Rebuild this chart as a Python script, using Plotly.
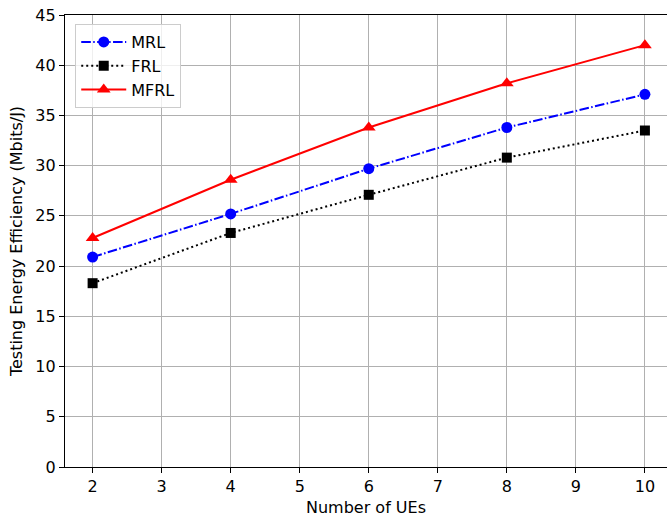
import plotly.graph_objects as go

num_ues = [2, 4, 6, 8, 10]
mrl = [20.9, 25.2, 29.7, 33.8, 37.1]
frl = [18.3, 23.3, 27.1, 30.8, 33.5]
mfrl = [22.8, 28.6, 33.8, 38.2, 42.0]

x_ticks = [2, 3, 4, 5, 6, 7, 8, 9, 10]
y_ticks = [0, 5, 10, 15, 20, 25, 30, 35, 40, 45]

font_family = "DejaVu Sans"
fs = 16

fig = go.Figure()
fig.add_trace(go.Scatter(
    x=num_ues, y=mrl, name="MRL", mode="lines+markers",
    line=dict(color="#0000ff", width=2, dash="9.6px,2.4px,1.5px,2.4px"),
    marker=dict(symbol="circle", size=11, color="#0000ff"),
))
fig.add_trace(go.Scatter(
    x=num_ues, y=frl, name="FRL", mode="lines+markers",
    line=dict(color="#000000", width=2, dash="2px,3px"),
    marker=dict(symbol="square", size=10, color="#000000"),
))
fig.add_trace(go.Scatter(
    x=num_ues, y=mfrl, name="MFRL", mode="lines+markers",
    line=dict(color="#ff0000", width=2),
    marker=dict(symbol="triangle-up", size=12, color="#ff0000"),
))

axis_common = dict(
    showgrid=True, gridcolor="#b0b0b0", gridwidth=1,
    showline=True, linecolor="black", linewidth=1.2, mirror=True,
    ticks="outside", ticklen=5, tickwidth=1.2, tickcolor="black",
    zeroline=False,
    tickfont=dict(family=font_family, size=fs, color="black"),
)

fig.update_xaxes(
    range=[1.6, 10.32], tickvals=x_ticks,
    title=dict(text="Number of UEs", font=dict(family=font_family, size=fs, color="black"), standoff=6),
    **axis_common,
)
fig.update_yaxes(
    range=[0, 45], tickvals=y_ticks,
    title=dict(text="Testing Energy Efficiency (Mbits/J)", font=dict(family=font_family, size=fs, color="black"), standoff=8),
    **axis_common,
)

fig.update_layout(
    width=667, height=519,
    margin=dict(l=65, r=0, t=15, b=52),
    paper_bgcolor="white", plot_bgcolor="white",
    font=dict(family=font_family, size=fs, color="black"),
    showlegend=True,
    legend=dict(
        x=0.017, y=0.98, xanchor="left", yanchor="top",
        bgcolor="rgba(255,255,255,0.8)", bordercolor="#cccccc", borderwidth=1,
        font=dict(family=font_family, size=fs, color="black"),
        itemwidth=45, tracegroupgap=0,
    ),
)

fig.write_html("out.html")
